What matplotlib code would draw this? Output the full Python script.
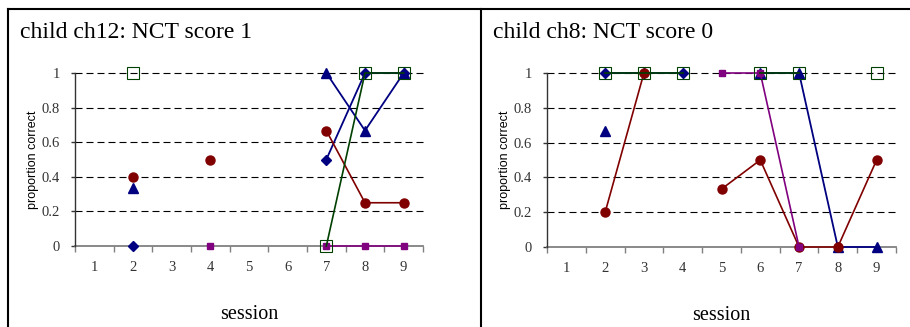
import matplotlib
matplotlib.use('Agg')
import matplotlib.pyplot as plt
import numpy as np
from matplotlib.lines import Line2D

nan = np.nan
sessions = [1, 2, 3, 4, 5, 6, 7, 8, 9]

# child ch12 (left panel)
ch12_diamond = [nan, 0, nan, nan, nan, nan, 0.5, 1, 1]
ch12_triangle = [nan, 0.333, nan, nan, nan, nan, 1, 0.667, 1]
ch12_circle = [nan, 0.4, nan, 0.5, nan, nan, 0.667, 0.25, 0.25]
ch12_purple = [nan, nan, nan, 0, nan, nan, 0, 0, 0]
ch12_green = [nan, 1, nan, nan, nan, nan, 0, 1, 1]

# child ch8 (right panel)
ch8_diamond = [nan, 1, 1, 1, nan, nan, nan, nan, nan]
ch8_triangle = [nan, 0.667, nan, nan, nan, 1, 1, 0, 0]
ch8_circle = [nan, 0.2, 1, nan, 0.333, 0.5, 0, 0, 0.5]
ch8_purple = [nan, nan, nan, nan, 1, 1, 0, nan, nan]
ch8_green = [nan, 1, 1, 1, nan, 1, 1, nan, 1]

titles = ['child ch12: NCT score 1', 'child ch8: NCT score 0']
yticks = [0, 0.2, 0.4, 0.6, 0.8, 1]
ytick_labels = ['0', '0.2', '0.4', '0.6', '0.8', '1']

serif = ['Liberation Serif', 'DejaVu Serif']
sans = ['Liberation Sans', 'DejaVu Sans']

NAVY = '#000080'
RED = '#800000'
PURPLE = '#800080'
GREEN = '#004000'


def draw_panel(ax, diamond, triangle, circle, purple, green):
    ax.set_xlim(0.5, 9.5)
    ax.set_ylim(0, 1)

    ax.hlines(yticks[1:], 0.5, 9.5, colors='black', linewidth=0.8,
              linestyles=(0, (6.3, 3.6)), clip_on=False, zorder=1)

    ax.plot(sessions, diamond, color=NAVY, marker='D', markersize=5.5,
            linewidth=1.3, clip_on=False, zorder=3)
    ax.plot(sessions, triangle, color=NAVY, marker='^', markersize=7,
            linewidth=1.3, clip_on=False, zorder=3)
    ax.plot(sessions, circle, color=RED, marker='o', markersize=6.5,
            linewidth=1.2, clip_on=False, zorder=3)
    ax.plot(sessions, purple, color=PURPLE, marker='s', markersize=4.5,
            linewidth=1.2, clip_on=False, zorder=4)
    ax.plot(sessions, green, color=GREEN, marker='s', markersize=8.5,
            markerfacecolor='none', markeredgewidth=0.8,
            linewidth=1.2, clip_on=False, zorder=4)

    for side in ['top', 'right']:
        ax.spines[side].set_visible(False)
    ax.spines['left'].set_color('#333333')
    ax.spines['left'].set_linewidth(1.0)
    ax.spines['bottom'].set_color('#808080')
    ax.spines['bottom'].set_linewidth(1.3)
    ax.spines['bottom'].set_zorder(2)

    ax.set_xticks(np.arange(0.5, 10, 1))
    ax.set_xticklabels([])
    ax.set_xticks(sessions, minor=True)
    ax.set_xticklabels([str(s) for s in sessions], minor=True,
                       family=serif, fontsize=10.5, color='#333333')
    ax.tick_params(axis='x', which='major', length=4, width=1.0,
                   color='#808080', direction='out')
    ax.tick_params(axis='x', which='minor', length=0, pad=11)

    ax.set_yticks(yticks)
    ax.set_yticklabels(ytick_labels, family=serif, fontsize=10.5,
                       color='#333333')
    ax.tick_params(axis='y', length=3, width=1.0, color='#333333', pad=8)

    ax.set_xlabel('session', family=serif, fontsize=14.5, labelpad=22)
    ax.set_ylabel('proportion correct', family=sans, fontsize=9, labelpad=2)


fig = plt.figure(figsize=(9.1, 3.27), dpi=100)

ax1 = fig.add_axes([75 / 910, 81 / 327, 348 / 910, 173 / 327])
ax2 = fig.add_axes([547 / 910, 80 / 327, 349 / 910, 174 / 327])

draw_panel(ax1, ch12_diamond, ch12_triangle, ch12_circle, ch12_purple, ch12_green)
draw_panel(ax2, ch8_diamond, ch8_triangle, ch8_circle, ch8_purple, ch8_green)

fig.text(20 / 910, 1 - 33 / 327, titles[0], family=serif, fontsize=17,
         va='center', ha='left')
fig.text(493 / 910, 1 - 33 / 327, titles[1], family=serif, fontsize=17,
         va='center', ha='left')

# frame lines around the two cells
lw = 1.5
fig.add_artist(Line2D([8 / 910, 1], [1 - 9 / 327, 1 - 9 / 327],
                      color='black', linewidth=lw))
fig.add_artist(Line2D([8 / 910, 8 / 910], [0, 1 - 9 / 327],
                      color='black', linewidth=lw))
fig.add_artist(Line2D([480.5 / 910, 480.5 / 910], [0, 1 - 9 / 327],
                      color='black', linewidth=lw))

fig.savefig('out.png', dpi=100)
plt.close(fig)
